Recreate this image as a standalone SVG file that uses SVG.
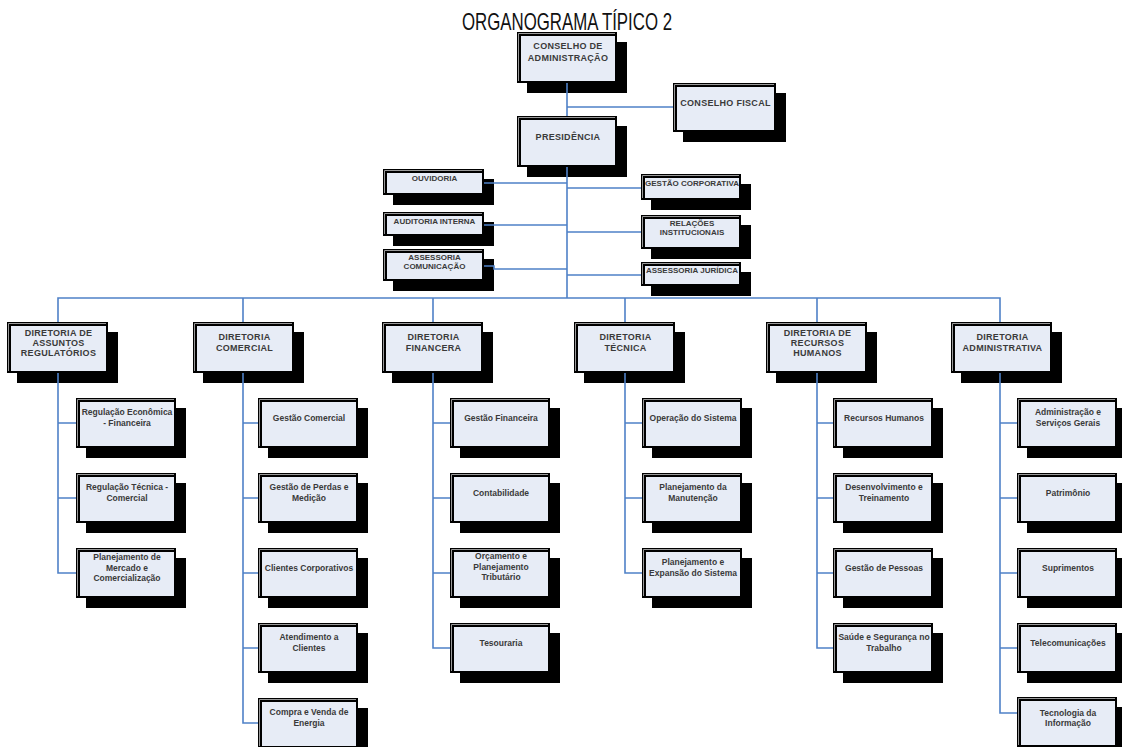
<svg xmlns="http://www.w3.org/2000/svg" width="1122" height="747" viewBox="0 0 1122 747">
<style>
.sh{fill:#000}
.fr{fill:#000}
.hl{fill:none;stroke:#9a9a9a;stroke-width:1}
.fi{fill:#e7ecf6}
.t{font-family:"Liberation Sans",Arial,sans-serif;font-weight:bold;fill:#3a3a3a;text-anchor:middle}
.t9{font-size:9px;letter-spacing:0.3px}
.t8{font-size:8px}
.ts{font-size:8.5px}
.c{fill:none;stroke:#4f81c7;stroke-width:1.6}
.title{font-family:"Liberation Sans",Arial,sans-serif;font-size:24px;fill:#111;text-anchor:middle}
</style>
<rect width="1122" height="747" fill="#fff"/>
<text class="title" x="567" y="30" textLength="210" lengthAdjust="spacingAndGlyphs">ORGANOGRAMA TÍPICO 2</text>

<g id="cons-adm"><rect class="sh" x="527" y="42" width="100" height="51"/><rect class="fr" x="517" y="32" width="100" height="51"/><path class="hl" d="M518.5 81V33.5H615"/><rect class="fi" x="521" y="36" width="94" height="45"/><text class="t t9" x="568" y="49">CONSELHO DE</text><text class="t t9" x="568" y="61">ADMINISTRAÇÃO</text></g>
<g id="presidencia"><rect class="sh" x="527" y="126" width="100" height="51"/><rect class="fr" x="517" y="116" width="100" height="51"/><path class="hl" d="M518.5 165V117.5H615"/><rect class="fi" x="521" y="120" width="94" height="45"/><text class="t t9" x="568" y="140">PRESIDÊNCIA</text></g>
<g id="cons-fiscal"><rect class="sh" x="683" y="93" width="103" height="49"/><rect class="fr" x="673" y="83" width="103" height="49"/><path class="hl" d="M674.5 130V84.5H774"/><rect class="fi" x="677" y="87" width="97" height="43"/><text class="t t9" x="725.5" y="106">CONSELHO FISCAL</text></g>

<g id="ouvidoria"><rect class="sh" x="393" y="179" width="101" height="26"/><rect class="fr" x="383" y="169" width="101" height="26"/><path class="hl" d="M384.5 193V170.5H482"/><rect class="fi" x="387" y="173" width="95" height="20"/><text class="t t8" x="434.5" y="181">OUVIDORIA</text></g>
<g id="auditoria"><rect class="sh" x="393" y="222" width="101" height="24"/><rect class="fr" x="383" y="212" width="101" height="24"/><path class="hl" d="M384.5 234V213.5H482"/><rect class="fi" x="387" y="216" width="95" height="18"/><text class="t t8" x="434.5" y="224">AUDITORIA INTERNA</text></g>
<g id="assess-com"><rect class="sh" x="393" y="259" width="101" height="32"/><rect class="fr" x="383" y="249" width="101" height="32"/><path class="hl" d="M384.5 279V250.5H482"/><rect class="fi" x="387" y="253" width="95" height="26"/><text class="t t8" x="434.5" y="260">ASSESSORIA</text><text class="t t8" x="434.5" y="269">COMUNICAÇÃO</text></g>
<g id="gestao-corp"><rect class="sh" x="651" y="184" width="100" height="26"/><rect class="fr" x="641" y="174" width="100" height="26"/><path class="hl" d="M642.5 198V175.5H739"/><rect class="fi" x="645" y="178" width="94" height="20"/><text class="t t8" x="692" y="186">GESTÃO CORPORATIVA</text></g>
<g id="relacoes"><rect class="sh" x="651" y="225" width="100" height="34"/><rect class="fr" x="641" y="215" width="100" height="34"/><path class="hl" d="M642.5 247V216.5H739"/><rect class="fi" x="645" y="219" width="94" height="28"/><text class="t t8" x="692" y="226">RELAÇÕES</text><text class="t t8" x="692" y="235">INSTITUCIONAIS</text></g>
<g id="assess-jur"><rect class="sh" x="651" y="272" width="100" height="24"/><rect class="fr" x="641" y="262" width="100" height="24"/><path class="hl" d="M642.5 284V263.5H739"/><rect class="fi" x="645" y="266" width="94" height="18"/><text class="t t8" x="692" y="273">ASSESSORIA JURÍDICA</text></g>

<g id="dir-reg"><rect class="sh" x="17" y="332" width="101" height="51"/><rect class="fr" x="7" y="322" width="101" height="51"/><path class="hl" d="M8.5 371V323.5H106"/><rect class="fi" x="11" y="326" width="95" height="45"/><text class="t t9" x="58.5" y="336">DIRETORIA DE</text><text class="t t9" x="58.5" y="346">ASSUNTOS</text><text class="t t9" x="58.5" y="356">REGULATÓRIOS</text></g>
<g id="dir-com"><rect class="sh" x="203" y="332" width="101" height="51"/><rect class="fr" x="193" y="322" width="101" height="51"/><path class="hl" d="M194.5 371V323.5H292"/><rect class="fi" x="197" y="326" width="95" height="45"/><text class="t t9" x="244.5" y="340">DIRETORIA</text><text class="t t9" x="244.5" y="351">COMERCIAL</text></g>
<g id="dir-fin"><rect class="sh" x="392" y="332" width="101" height="51"/><rect class="fr" x="382" y="322" width="101" height="51"/><path class="hl" d="M383.5 371V323.5H481"/><rect class="fi" x="386" y="326" width="95" height="45"/><text class="t t9" x="433.5" y="340">DIRETORIA</text><text class="t t9" x="433.5" y="351">FINANCERA</text></g>
<g id="dir-tec"><rect class="sh" x="584" y="332" width="101" height="51"/><rect class="fr" x="574" y="322" width="101" height="51"/><path class="hl" d="M575.5 371V323.5H673"/><rect class="fi" x="578" y="326" width="95" height="45"/><text class="t t9" x="625.5" y="340">DIRETORIA</text><text class="t t9" x="625.5" y="351">TÉCNICA</text></g>
<g id="dir-rh"><rect class="sh" x="776" y="332" width="101" height="51"/><rect class="fr" x="766" y="322" width="101" height="51"/><path class="hl" d="M767.5 371V323.5H865"/><rect class="fi" x="770" y="326" width="95" height="45"/><text class="t t9" x="817.5" y="336">DIRETORIA DE</text><text class="t t9" x="817.5" y="346">RECURSOS</text><text class="t t9" x="817.5" y="356">HUMANOS</text></g>
<g id="dir-adm"><rect class="sh" x="961" y="332" width="101" height="51"/><rect class="fr" x="951" y="322" width="101" height="51"/><path class="hl" d="M952.5 371V323.5H1050"/><rect class="fi" x="955" y="326" width="95" height="45"/><text class="t t9" x="1002.5" y="340">DIRETORIA</text><text class="t t9" x="1002.5" y="351">ADMINISTRATIVA</text></g>

<!-- Column 1 -->
<g id="reg-eco"><rect class="sh" x="86" y="408" width="100" height="50"/><rect class="fr" x="76" y="398" width="100" height="50"/><path class="hl" d="M77.5 446V399.5H174"/><rect class="fi" x="80" y="402" width="94" height="44"/><text class="t ts" x="127" y="415">Regulação Econômica</text><text class="t ts" x="127" y="426">- Financeira</text></g>
<g id="reg-tec"><rect class="sh" x="86" y="483" width="100" height="50"/><rect class="fr" x="76" y="473" width="100" height="50"/><path class="hl" d="M77.5 521V474.5H174"/><rect class="fi" x="80" y="477" width="94" height="44"/><text class="t ts" x="127" y="490">Regulação Técnica -</text><text class="t ts" x="127" y="501">Comercial</text></g>
<g id="plan-merc"><rect class="sh" x="86" y="558" width="100" height="50"/><rect class="fr" x="76" y="548" width="100" height="50"/><path class="hl" d="M77.5 596V549.5H174"/><rect class="fi" x="80" y="552" width="94" height="44"/><text class="t ts" x="127" y="560">Planejamento de</text><text class="t ts" x="127" y="570.5">Mercado e</text><text class="t ts" x="127" y="581">Comercialização</text></g>

<!-- Column 2 -->
<g id="gest-com"><rect class="sh" x="268" y="408" width="100" height="50"/><rect class="fr" x="258" y="398" width="100" height="50"/><path class="hl" d="M259.5 446V399.5H356"/><rect class="fi" x="262" y="402" width="94" height="44"/><text class="t ts" x="309" y="421">Gestão Comercial</text></g>
<g id="gest-perdas"><rect class="sh" x="268" y="483" width="100" height="50"/><rect class="fr" x="258" y="473" width="100" height="50"/><path class="hl" d="M259.5 521V474.5H356"/><rect class="fi" x="262" y="477" width="94" height="44"/><text class="t ts" x="309" y="490">Gestão de Perdas e</text><text class="t ts" x="309" y="501">Medição</text></g>
<g id="clientes-corp"><rect class="sh" x="268" y="558" width="100" height="50"/><rect class="fr" x="258" y="548" width="100" height="50"/><path class="hl" d="M259.5 596V549.5H356"/><rect class="fi" x="262" y="552" width="94" height="44"/><text class="t ts" x="309" y="571">Clientes Corporativos</text></g>
<g id="atendimento"><rect class="sh" x="268" y="633" width="100" height="50"/><rect class="fr" x="258" y="623" width="100" height="50"/><path class="hl" d="M259.5 671V624.5H356"/><rect class="fi" x="262" y="627" width="94" height="44"/><text class="t ts" x="309" y="640">Atendimento a</text><text class="t ts" x="309" y="651">Clientes</text></g>
<g id="compra-venda"><rect class="sh" x="268" y="708" width="100" height="50"/><rect class="fr" x="258" y="698" width="100" height="50"/><path class="hl" d="M259.5 746V699.5H356"/><rect class="fi" x="262" y="702" width="94" height="44"/><text class="t ts" x="309" y="715">Compra e Venda de</text><text class="t ts" x="309" y="726">Energia</text></g>

<!-- Column 3 -->
<g id="gest-fin"><rect class="sh" x="460" y="408" width="100" height="50"/><rect class="fr" x="450" y="398" width="100" height="50"/><path class="hl" d="M451.5 446V399.5H548"/><rect class="fi" x="454" y="402" width="94" height="44"/><text class="t ts" x="501" y="421">Gestão Financeira</text></g>
<g id="contab"><rect class="sh" x="460" y="483" width="100" height="50"/><rect class="fr" x="450" y="473" width="100" height="50"/><path class="hl" d="M451.5 521V474.5H548"/><rect class="fi" x="454" y="477" width="94" height="44"/><text class="t ts" x="501" y="496">Contabilidade</text></g>
<g id="orcamento"><rect class="sh" x="460" y="558" width="100" height="50"/><rect class="fr" x="450" y="548" width="100" height="50"/><path class="hl" d="M451.5 596V549.5H548"/><rect class="fi" x="454" y="552" width="94" height="44"/><text class="t ts" x="501" y="559">Orçamento e</text><text class="t ts" x="501" y="569.5">Planejamento</text><text class="t ts" x="501" y="580">Tributário</text></g>
<g id="tesouraria"><rect class="sh" x="460" y="633" width="100" height="50"/><rect class="fr" x="450" y="623" width="100" height="50"/><path class="hl" d="M451.5 671V624.5H548"/><rect class="fi" x="454" y="627" width="94" height="44"/><text class="t ts" x="501" y="646">Tesouraria</text></g>

<!-- Column 4 -->
<g id="operacao"><rect class="sh" x="652" y="408" width="100" height="50"/><rect class="fr" x="642" y="398" width="100" height="50"/><path class="hl" d="M643.5 446V399.5H740"/><rect class="fi" x="646" y="402" width="94" height="44"/><text class="t ts" x="693" y="421">Operação do Sistema</text></g>
<g id="plan-manut"><rect class="sh" x="652" y="483" width="100" height="50"/><rect class="fr" x="642" y="473" width="100" height="50"/><path class="hl" d="M643.5 521V474.5H740"/><rect class="fi" x="646" y="477" width="94" height="44"/><text class="t ts" x="693" y="490">Planejamento da</text><text class="t ts" x="693" y="501">Manutenção</text></g>
<g id="plan-exp"><rect class="sh" x="652" y="558" width="100" height="50"/><rect class="fr" x="642" y="548" width="100" height="50"/><path class="hl" d="M643.5 596V549.5H740"/><rect class="fi" x="646" y="552" width="94" height="44"/><text class="t ts" x="693" y="565">Planejamento e</text><text class="t ts" x="693" y="576">Expansão do Sistema</text></g>

<!-- Column 5 -->
<g id="rh"><rect class="sh" x="843" y="408" width="100" height="50"/><rect class="fr" x="833" y="398" width="100" height="50"/><path class="hl" d="M834.5 446V399.5H931"/><rect class="fi" x="837" y="402" width="94" height="44"/><text class="t ts" x="884" y="421">Recursos Humanos</text></g>
<g id="desenv"><rect class="sh" x="843" y="483" width="100" height="50"/><rect class="fr" x="833" y="473" width="100" height="50"/><path class="hl" d="M834.5 521V474.5H931"/><rect class="fi" x="837" y="477" width="94" height="44"/><text class="t ts" x="884" y="490">Desenvolvimento e</text><text class="t ts" x="884" y="501">Treinamento</text></g>
<g id="gest-pessoas"><rect class="sh" x="843" y="558" width="100" height="50"/><rect class="fr" x="833" y="548" width="100" height="50"/><path class="hl" d="M834.5 596V549.5H931"/><rect class="fi" x="837" y="552" width="94" height="44"/><text class="t ts" x="884" y="571">Gestão de Pessoas</text></g>
<g id="saude"><rect class="sh" x="843" y="633" width="100" height="50"/><rect class="fr" x="833" y="623" width="100" height="50"/><path class="hl" d="M834.5 671V624.5H931"/><rect class="fi" x="837" y="627" width="94" height="44"/><text class="t ts" x="884" y="640">Saúde e Segurança no</text><text class="t ts" x="884" y="651">Trabalho</text></g>

<!-- Column 6 -->
<g id="adm-serv"><rect class="sh" x="1027" y="408" width="100" height="50"/><rect class="fr" x="1017" y="398" width="100" height="50"/><path class="hl" d="M1018.5 446V399.5H1115"/><rect class="fi" x="1021" y="402" width="94" height="44"/><text class="t ts" x="1068" y="415">Administração e</text><text class="t ts" x="1068" y="426">Serviços Gerais</text></g>
<g id="patrimonio"><rect class="sh" x="1027" y="483" width="100" height="50"/><rect class="fr" x="1017" y="473" width="100" height="50"/><path class="hl" d="M1018.5 521V474.5H1115"/><rect class="fi" x="1021" y="477" width="94" height="44"/><text class="t ts" x="1068" y="496">Patrimônio</text></g>
<g id="suprimentos"><rect class="sh" x="1027" y="558" width="100" height="50"/><rect class="fr" x="1017" y="548" width="100" height="50"/><path class="hl" d="M1018.5 596V549.5H1115"/><rect class="fi" x="1021" y="552" width="94" height="44"/><text class="t ts" x="1068" y="571">Suprimentos</text></g>
<g id="telecom"><rect class="sh" x="1027" y="633" width="100" height="50"/><rect class="fr" x="1017" y="623" width="100" height="50"/><path class="hl" d="M1018.5 671V624.5H1115"/><rect class="fi" x="1021" y="627" width="94" height="44"/><text class="t ts" x="1068" y="646">Telecomunicações</text></g>
<g id="ti"><rect class="sh" x="1027" y="707" width="100" height="50"/><rect class="fr" x="1017" y="697" width="100" height="50"/><path class="hl" d="M1018.5 745V698.5H1115"/><rect class="fi" x="1021" y="701" width="94" height="44"/><text class="t ts" x="1068" y="716">Tecnologia da</text><text class="t ts" x="1068" y="726">Informação</text></g>

<g id="connectors" class="c">
<path class="c" d="M567 83V116M567 167V298M567 107H673"/>
<path class="c" d="M484 183H567M484 225H567M484 266H494V269H567"/>
<path class="c" d="M567 188H641M567 232H641M567 275H641"/>
<path class="c" d="M58 322V298H1000V322M243 298V322M433 298V322M625 298V322M817 298V322"/>
<path class="c" d="M58 373V573H76M58 423H76M58 498H76"/>
<path class="c" d="M243 373V723H258M243 423H258M243 498H258M243 573H258M243 648H258"/>
<path class="c" d="M433 373V648H450M433 423H450M433 498H450M433 573H450"/>
<path class="c" d="M625 373V573H642M625 423H642M625 498H642"/>
<path class="c" d="M817 373V648H833M817 423H833M817 498H833M817 573H833"/>
<path class="c" d="M1000 373V713H1017M1000 423H1017M1000 498H1017M1000 573H1017M1000 648H1017"/>
</g>
</svg>
